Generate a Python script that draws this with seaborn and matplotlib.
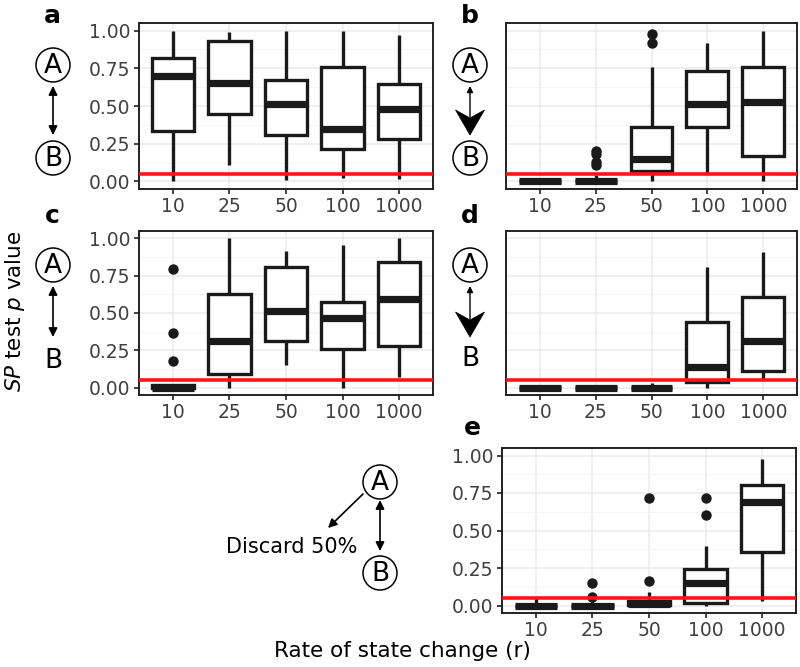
import numpy as np
import pandas as pd
import matplotlib
matplotlib.use("Agg")
import matplotlib.pyplot as plt
from matplotlib.patches import Circle, Polygon
import seaborn as sns

# ---------------- data ----------------
rates = ["10", "25", "50", "100", "1000"]
# five-number summaries per rate: [whisker low, Q1, median, Q3, whisker high]
a_box = [[0.00, 0.334, 0.70, 0.82, 1.00],
         [0.11, 0.45, 0.653, 0.93, 0.99],
         [0.01, 0.31, 0.515, 0.675, 1.00],
         [0.02, 0.218, 0.35, 0.758, 0.996],
         [0.013, 0.28, 0.48, 0.643, 0.973]]
a_out_rate = []
a_out_val = []

b_box = [[0.00, 0.00, 0.00, 0.00, 0.00],
         [0.00, 0.00, 0.00, 0.00, 0.04],
         [0.00, 0.07, 0.146, 0.359, 0.76],
         [0.05, 0.36, 0.515, 0.729, 0.915],
         [0.00, 0.17, 0.527, 0.758, 1.00]]
b_out_rate = ["25", "25", "25", "25", "50", "50"]
b_out_val = [0.20, 0.18, 0.13, 0.11, 0.98, 0.915]

c_box = [[0.00, 0.00, 0.00, 0.02, 0.02],
         [0.00, 0.089, 0.31, 0.628, 1.00],
         [0.148, 0.31, 0.511, 0.807, 0.915],
         [0.00, 0.258, 0.467, 0.576, 0.955],
         [0.074, 0.278, 0.597, 0.842, 1.00]]
c_out_rate = ["10", "10", "10"]
c_out_val = [0.796, 0.368, 0.175]

d_box = [[0.00, 0.00, 0.00, 0.00, 0.00],
         [0.00, 0.00, 0.00, 0.00, 0.00],
         [0.00, 0.00, 0.00, 0.00, 0.03],
         [0.00, 0.034, 0.141, 0.437, 0.807],
         [0.052, 0.112, 0.309, 0.608, 0.908]]
d_out_rate = []
d_out_val = []

e_box = [[0.00, 0.00, 0.00, 0.00, 0.05],
         [0.00, 0.00, 0.00, 0.00, 0.03],
         [0.00, 0.005, 0.012, 0.03, 0.087],
         [0.00, 0.016, 0.149, 0.245, 0.398],
         [0.027, 0.356, 0.687, 0.805, 0.976]]
e_out_rate = ["25", "25", "50", "50", "100", "100"]
e_out_val = [0.149, 0.056, 0.72, 0.165, 0.72, 0.605]

y_ticks = [0.0, 0.25, 0.5, 0.75, 1.0]
y_tick_labels = ["0.00", "0.25", "0.50", "0.75", "1.00"]
threshold = 0.05

# ---------------- figure ----------------
sns.set_theme(style="white")
plt.rcParams["font.family"] = ["DejaVu Sans"]
W, H = 800, 667
fig = plt.figure(figsize=(W / 100, H / 100), dpi=100)

# overlay for diagrams (pixel coordinates)
ov = fig.add_axes([0, 0, 1, 1], zorder=0)
ov.set_xlim(0, W)
ov.set_ylim(H, 0)
ov.axis("off")
ov.patch.set_alpha(0)


def px_axes(left, top, right, bottom):
    return fig.add_axes([left / W, (H - bottom) / H, (right - left) / W, (bottom - top) / H], zorder=2)


EDGE = "#1A1A1A"
TICK_FS = 13.5
TICK_COL = "#404040"


def draw_panel(ax, box, out_rate, out_val, show_y):
    rows = []
    for r, vals in zip(rates, box):
        for v in vals:
            rows.append({"rate": r, "p": v})
    df = pd.DataFrame(rows)
    ax.set_axisbelow(True)
    sns.boxplot(data=df, x="rate", y="p", order=rates, ax=ax, whis=(0, 100),
                width=0.75, color="white", saturation=1, linecolor=EDGE,
                linewidth=2.4, showfliers=False, showcaps=False,
                medianprops={"linewidth": 5.2, "solid_capstyle": "butt"})
    if out_val:
        odf = pd.DataFrame({"rate": out_rate, "p": out_val})
        sns.stripplot(data=odf, x="rate", y="p", order=rates, ax=ax, jitter=False,
                      color=EDGE, size=7.5, linewidth=0, zorder=5)
    ax.axhline(threshold, color="#FF1414", lw=2.6, zorder=10)
    ax.set_xlim(-0.6, 4.6)
    ax.set_ylim(-0.05, 1.05)
    ax.set_yticks(y_ticks)
    ax.set_yticks([0.125, 0.375, 0.625, 0.875], minor=True)
    ax.grid(True, which="major", color="#EBEBEB", lw=1.1)
    ax.grid(True, which="minor", axis="y", color="#F2F2F2", lw=0.6)
    ax.set_xlabel("")
    ax.set_ylabel("")
    ax.tick_params(axis="x", which="major", length=3.5, width=1.3, color="#333333",
                   labelsize=TICK_FS, labelcolor=TICK_COL, pad=2.5, bottom=True)
    ax.tick_params(axis="y", which="minor", length=0, left=False)
    if show_y:
        ax.set_yticklabels(y_tick_labels)
        ax.tick_params(axis="y", which="major", length=3.5, width=1.3, color="#333333",
                       labelsize=TICK_FS, labelcolor=TICK_COL, pad=2.5, left=True)
    else:
        ax.set_yticklabels([])
        ax.tick_params(axis="y", which="major", length=0, left=False)
    for s in ax.spines.values():
        s.set_visible(True)
        s.set_color("#222222")
        s.set_linewidth(1.4)


ax_a = px_axes(139, 23, 433, 189)
ax_b = px_axes(506, 23, 797, 189)
ax_c = px_axes(139, 231, 433, 395)
ax_d = px_axes(506, 231, 797, 395)
ax_e = px_axes(502, 448, 796, 613)

draw_panel(ax_a, a_box, a_out_rate, a_out_val, True)
draw_panel(ax_b, b_box, b_out_rate, b_out_val, False)
draw_panel(ax_c, c_box, c_out_rate, c_out_val, True)
draw_panel(ax_d, d_box, d_out_rate, d_out_val, False)
draw_panel(ax_e, e_box, e_out_rate, e_out_val, True)

# panel letters
for lab, x, y in [("a", 52, 16), ("b", 470, 16), ("c", 52, 216), ("d", 470, 216), ("e", 472, 428)]:
    ov.text(x, y, lab, fontsize=18, fontweight="bold", ha="center", va="center", color="black")

# axis titles
fig.text(15 / W, 1 - 311 / H, "$\\it{SP}$ test $\\it{p}$ value", rotation=90, fontsize=15.5,
         ha="center", va="center", color="black")
fig.text(402 / W, 1 - 651 / H, "Rate of state change (r)", fontsize=15.5,
         ha="center", va="center", color="black")

LETTER_FS = 19


def circ_letter(x, y, letter):
    ov.add_patch(Circle((x, y), 17, fill=False, ec="black", lw=1.1))
    ov.text(x, y + 1, letter, fontsize=LETTER_FS, ha="center", va="center", color="black")


def plain_letter(x, y, letter):
    ov.text(x, y + 1, letter, fontsize=LETTER_FS, ha="center", va="center", color="black")


def double_arrow(x1, y1, x2, y2):
    ov.annotate("", xy=(x2, y2), xytext=(x1, y1),
                arrowprops=dict(arrowstyle="<|-|>", lw=1.2, color="black",
                                mutation_scale=13, shrinkA=0, shrinkB=0))


def big_down_arrow(x, ytop, ytip):
    # thin shaft with small up head, big stealth head pointing down
    ov.annotate("", xy=(x, ytop), xytext=(x, ytip - 18),
                arrowprops=dict(arrowstyle="-|>", lw=1.0, color="black",
                                mutation_scale=9, shrinkA=0, shrinkB=0))
    ov.add_patch(Polygon([(x, ytip), (x - 14.5, ytip - 25), (x, ytip - 17),
                          (x + 14.5, ytip - 25)], closed=True, fc="black", ec="black", lw=0.5))


# panel a diagram
circ_letter(53, 65, "A")
circ_letter(53, 158, "B")
double_arrow(53, 86, 53, 135)
# panel b diagram
circ_letter(470, 65, "A")
circ_letter(470, 158, "B")
big_down_arrow(470, 86, 135)
# panel c diagram
circ_letter(53, 265, "A")
plain_letter(53, 360, "B")
double_arrow(53, 286, 53, 337)
# panel d diagram
circ_letter(470, 265, "A")
plain_letter(470, 358, "B")
big_down_arrow(470, 286, 337)
# panel e diagram
circ_letter(380, 482, "A")
circ_letter(380, 573, "B")
double_arrow(380, 500, 380, 551)
ov.annotate("", xy=(328, 528), xytext=(363, 494),
            arrowprops=dict(arrowstyle="-|>", lw=1.2, color="black",
                            mutation_scale=13, shrinkA=0, shrinkB=0))
ov.text(292, 547, "Discard 50%", fontsize=15, ha="center", va="center", color="black")

fig.savefig("out.png", dpi=100)
